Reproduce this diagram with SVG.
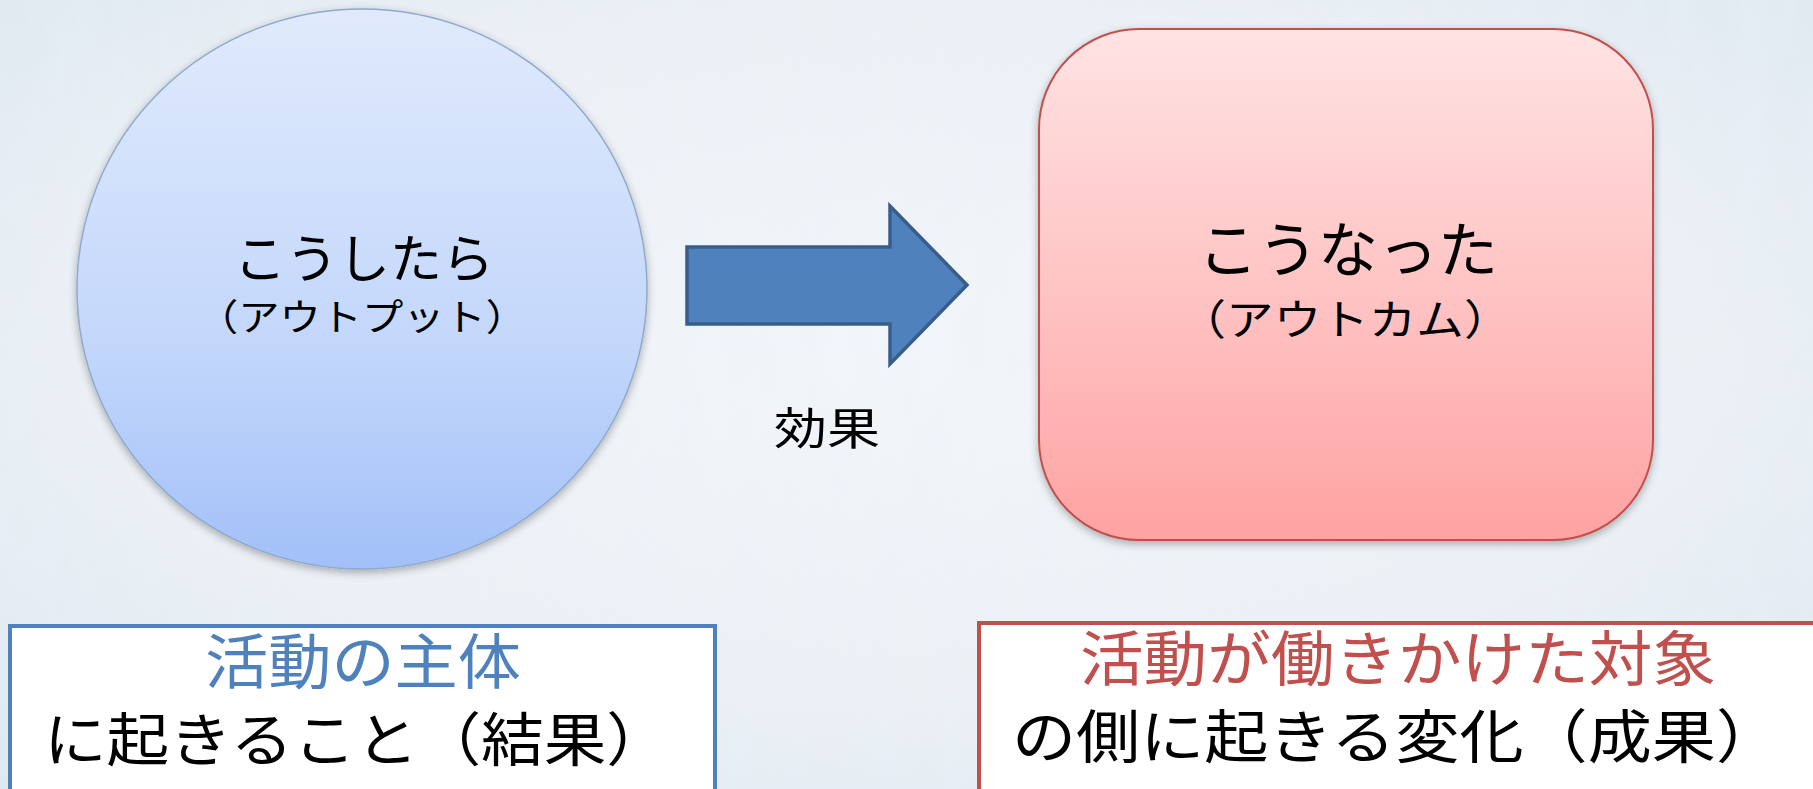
<svg xmlns="http://www.w3.org/2000/svg" width="1813" height="789" viewBox="0 0 1813 789">
<defs>
<radialGradient id="bg" cx="0.5" cy="0.45" r="0.75">
<stop offset="0" stop-color="#F3F6F9"/>
<stop offset="0.6" stop-color="#EBF0F5"/>
<stop offset="1" stop-color="#DCE6EF"/>
</radialGradient>
<linearGradient id="blueFill" x1="0" y1="0" x2="0" y2="1">
<stop offset="0" stop-color="#E0EAFC"/>
<stop offset="0.6" stop-color="#C3D7FB"/>
<stop offset="1" stop-color="#A2C0F8"/>
</linearGradient>
<linearGradient id="redFill" x1="0" y1="0" x2="0" y2="1">
<stop offset="0" stop-color="#FFE3E3"/>
<stop offset="0.6" stop-color="#FFBEBE"/>
<stop offset="1" stop-color="#FFA2A2"/>
</linearGradient>
<filter id="noise" x="0" y="0" width="100%" height="100%">
<feTurbulence type="fractalNoise" baseFrequency="0.03 0.01" numOctaves="3" seed="4"/>
<feColorMatrix type="matrix" values="0 0 0 0 0.82  0 0 0 0 0.88  0 0 0 0 0.95  0 0 0 1.4 -0.5"/>
</filter>
<filter id="shadow" x="-10%" y="-10%" width="120%" height="125%">
<feGaussianBlur in="SourceAlpha" stdDeviation="4"/>
<feOffset dy="3"/>
<feComponentTransfer><feFuncA type="linear" slope="0.3"/></feComponentTransfer>
<feMerge><feMergeNode/><feMergeNode in="SourceGraphic"/></feMerge>
</filter>
</defs>
<style>
text { font-family: "Noto Sans CJK JP", "Noto Sans CJK SC", sans-serif; text-anchor: middle; }
.start { text-anchor: start; }
.dark { fill: #000000; }
.blueLbl { fill: #4F81BD; }
.redLbl { fill: #C0504D; }
.box { fill: #FFFFFF; stroke-width: 4; }
</style>
<rect x="0" y="0" width="1813" height="789" fill="url(#bg)"/>
<rect x="0" y="0" width="1813" height="789" filter="url(#noise)" opacity="0.55"/>

<g id="connectors">
<path d="M687,247 L890,247 L890,206 L967,285 L890,364 L890,324 L687,324 Z" fill="#4F81BD" stroke="#385D8A" stroke-width="3.5" stroke-linejoin="miter"/>
<text x="827" y="445" font-size="44" textLength="106" lengthAdjust="spacingAndGlyphs" class="dark">効果</text>
</g>

<g id="output-node">
<ellipse cx="362" cy="289" rx="285" ry="280" fill="url(#blueFill)" stroke="#8EA9CC" stroke-width="1.5" filter="url(#shadow)"/>
<text x="364" y="278" font-size="52" class="dark">こうしたら</text>
<text x="362" y="331" font-size="37" textLength="330" lengthAdjust="spacingAndGlyphs" class="dark">（アウトプット）</text>
</g>

<g id="outcome-node">
<rect x="1039" y="29" width="614" height="511" rx="100" ry="100" fill="url(#redFill)" stroke="#C0504D" stroke-width="2" filter="url(#shadow)"/>
<text x="1348" y="272" font-size="60" class="dark">こうなった</text>
<text x="1345" y="335" font-size="42" textLength="333" lengthAdjust="spacingAndGlyphs" class="dark">（アウトカム）</text>
</g>

<g id="result-box">
<rect x="10" y="626" width="705" height="180" class="box" stroke="#4F81BD"/>
<text x="363" y="684" font-size="60" textLength="316" lengthAdjust="spacingAndGlyphs" class="blueLbl">活動の主体</text>
<text x="44" y="761" font-size="58" textLength="625" lengthAdjust="spacingAndGlyphs" class="dark start">に起きること（結果）</text>
</g>

<g id="change-box">
<rect x="979" y="623" width="850" height="180" class="box" stroke="#C0504D"/>
<text x="1398" y="681" font-size="60" textLength="636" lengthAdjust="spacingAndGlyphs" class="redLbl">活動が働きかけた対象</text>
<text x="1012" y="758" font-size="58" textLength="768" lengthAdjust="spacingAndGlyphs" class="dark start">の側に起きる変化（成果）</text>
</g>
</svg>
